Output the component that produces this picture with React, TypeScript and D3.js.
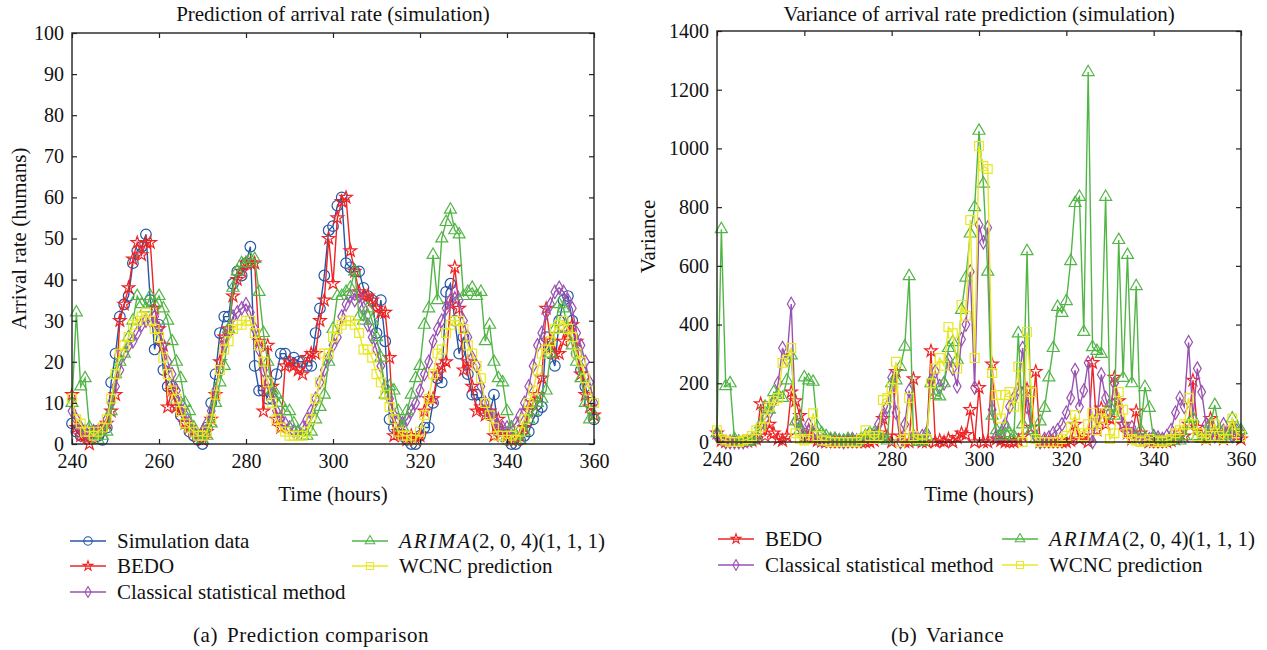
import React, { useEffect, useRef } from "react";
import * as d3 from "d3";

// hourly samples, t = 240 ... 360
const hours = d3.range(240, 361);

// ---- (a) arrival rate (humans) ----
const simData = [
  5, 3, 2, 2, 2, 3, 2, 1, 4, 15, 22, 31, 34, 36, 44, 47, 48, 51, 35, 23,
  29, 18, 14, 14, 10, 7, 5, 3, 2, 1, 0, 4, 10, 17, 27, 31, 31, 39, 42, 41,
  44, 48, 19, 13, 13, 11, 11, 17, 22, 22, 20, 21, 20, 20, 19, 19, 27, 33, 41, 52,
  53, 58, 60, 44, 43, 42, 42, 38, 36, 35, 27, 35, 25, 6, 4, 3, 2, 1, 0, 0,
  2, 4, 4, 10, 16, 15, 37, 39, 30, 22, 26, 17, 12, 12, 10, 8, 7, 12, 3, 2,
  1, 0, 0, 1, 2, 3, 6, 8, 9, 26, 22, 19, 30, 35, 36, 30, 22, 18, 14, 10, 6,
];
const bedoRate = [
  12, 4, 2, 2, 0, 3, 3, 4, 5, 8, 12, 30, 34, 38, 45, 49, 46, 49, 49, 33,
  28, 24, 9, 13, 9, 8, 5, 4, 3, 2, 1, 3, 6, 12, 20, 26, 28, 36, 40, 42,
  44, 44, 44, 25, 8, 24, 14, 6, 4, 19, 20, 19, 18, 17, 21, 22, 22, 30, 35, 50,
  39, 55, 59, 60, 47, 42, 37, 36, 36, 35, 33, 32, 32, 21, 2, 3, 2, 1, 2, 1,
  2, 8, 11, 11, 17, 19, 20, 34, 43, 33, 18, 20, 14, 8, 9, 7, 8, 2, 6, 3,
  2, 1, 1, 2, 4, 8, 10, 12, 16, 33, 25, 22, 22, 25, 27, 29, 25, 17, 12, 9, 7,
];
const classicalRate = [
  8, 6, 4, 3, 3, 3, 3, 4, 6, 10, 14, 18, 22, 24, 25, 27, 29, 30, 30, 31,
  28, 24, 20, 17, 13, 10, 7, 5, 3, 2, 3, 5, 8, 13, 18, 24, 27, 31, 32, 33,
  34, 32, 28, 23, 18, 15, 12, 8, 6, 5, 4, 3, 3, 4, 6, 8, 11, 15, 18, 21,
  24, 26, 31, 34, 36, 35, 36, 33, 29, 26, 23, 19, 14, 11, 7, 6, 5, 6, 8, 10,
  13, 17, 20, 25, 28, 30, 33, 35, 37, 35, 30, 26, 21, 19, 14, 10, 8, 6, 4, 4,
  4, 4, 5, 7, 10, 14, 19, 24, 27, 32, 34, 37, 38, 37, 35, 33, 27, 24, 20, 15, 10,
];
const arimaRate = [
  10, 32, 14, 16, 4, 2, 1, 2, 3, 8, 17, 20, 22, 26, 30, 36, 34, 33, 36, 34,
  36, 33, 30, 25, 20, 16, 10, 8, 4, 2, 1, 2, 5, 10, 15, 19, 28, 38, 42, 44,
  44, 45, 45, 37, 27, 20, 13, 12, 10, 8, 8, 5, 3, 2, 2, 3, 6, 9, 12, 20,
  28, 36, 36, 37, 38, 42, 31, 30, 33, 30, 26, 21, 12, 14, 13, 8, 4, 8, 12, 16,
  19, 29, 33, 46, 35, 50, 54, 57, 52, 51, 36, 37, 38, 36, 37, 25, 29, 20, 16, 15,
  8, 4, 2, 1, 3, 6, 8, 10, 11, 13, 22, 28, 34, 33, 28, 24, 20, 16, 10, 6, 7,
];
const wcncRate = [
  11, 6, 5, 3, 3, 2, 3, 4, 6, 11, 17, 22, 24, 26, 29, 30, 31, 32, 30, 28,
  26, 21, 17, 13, 11, 8, 5, 4, 3, 2, 2, 3, 6, 12, 18, 23, 25, 28, 29, 29,
  30, 30, 27, 24, 20, 15, 10, 6, 4, 3, 2, 2, 2, 2, 3, 6, 11, 15, 22, 22,
  26, 28, 29, 30, 30, 29, 27, 23, 23, 21, 17, 15, 12, 9, 6, 3, 2, 2, 1, 1,
  3, 7, 11, 17, 22, 23, 27, 29, 30, 30, 28, 24, 22, 19, 16, 10, 7, 4, 2, 2,
  1, 2, 1, 3, 6, 10, 13, 18, 22, 23, 25, 28, 29, 30, 28, 26, 22, 20, 16, 13, 10,
];

// ---- (b) variance of prediction ----
const bedoVar = [
  30, 5, 0, 0, 0, 0, 0, 2, 5, 10, 130, 20, 60, 30, 10, 5, 20, 170, 140, 90,
  20, 40, 15, 5, 2, 0, 0, 0, 0, 0, 0, 0, 0, 0, 0, 0, 5, 30, 80, 20,
  0, 240, 20, 0, 0, 215, 10, 0, 0, 310, 0, 5, 0, 10, 0, 15, 30, 25, 110, 0,
  185, 0, 0, 265, 10, 5, 0, 0, 0, 5, 20, 180, 50, 240, 0, 0, 0, 0, 0, 0,
  0, 5, 60, 10, 20, 0, 270, 40, 115, 60, 80, 220, 140, 60, 30, 10, 105, 30, 10, 0,
  0, 0, 0, 0, 5, 10, 30, 20, 60, 210, 50, 20, 10, 80, 30, 20, 10, 30, 40, 20, 10,
];
const classicalVar = [
  20, 10, 0, 0, 0, 0, 0, 5, 10, 20, 60, 80, 100, 140, 200, 320, 280, 470, 70, 50,
  20, 60, 30, 10, 5, 5, 5, 10, 5, 0, 5, 10, 5, 10, 20, 30, 20, 60, 90, 120,
  220, 100, 0, 60, 175, 20, 10, 20, 30, 210, 240, 190, 200, 280, 250, 190, 350, 400, 580, 185,
  740, 680, 730, 110, 20, 30, 60, 120, 150, 180, 320, 120, 40, 20, 0, 10, 15, 30, 40, 60,
  100, 150, 245, 120, 175, 270, 0, 80, 230, 150, 100, 200, 120, 60, 40, 50, 20, 10, 5, 10,
  20, 15, 10, 20, 40, 100, 150, 120, 340, 80, 250, 170, 60, 30, 20, 40, 60, 30, 20, 40, 30,
];
const arimaVar = [
  30, 725, 190, 200, 10, 0, 0, 0, 5, 20, 60, 120, 110, 170, 160, 150, 210, 295, 70, 40,
  220, 210, 205, 50, 30, 20, 10, 10, 5, 5, 10, 5, 0, 10, 20, 30, 30, 20, 10, 5,
  200, 210, 256, 325, 565, 10, 0, 0, 20, 200, 160, 155, 200, 320, 340, 280, 450, 560, 710, 800,
  1060, 880, 580, 90, 40, 20, 50, 30, 20, 370, 60, 650, 40, 10, 70, 116, 220, 320, 460, 440,
  480, 616, 814, 835, 375, 1260, 323, 310, 300, 835, 120, 90, 688, 218, 637, 200, 531, 40, 187, 116,
  10, 5, 0, 0, 5, 10, 5, 20, 60, 80, 20, 10, 20, 60, 126, 40, 20, 10, 80, 50, 40,
];
const wcncVar = [
  40, 10, 5, 0, 0, 0, 5, 10, 20, 40, 50, 80, 120, 140, 150, 270, 280, 320, 30, 10,
  5, 10, 98, 20, 5, 5, 0, 0, 0, 0, 0, 0, 0, 10, 40, 20, 10, 20, 143, 150,
  184, 273, 0, 10, 150, 20, 10, 10, 10, 200, 250, 286, 260, 392, 370, 250, 467, 430, 756, 286,
  1008, 940, 930, 235, 160, 80, 160, 170, 120, 256, 0, 375, 170, 10, 0, 0, 0, 0, 0, 10,
  20, 50, 92, 30, 20, 60, 100, 40, 80, 100, 10, 30, 170, 110, 30, 10, 5, 0, 5, 10,
  0, 5, 0, 5, 10, 30, 40, 60, 150, 60, 20, 30, 10, 20, 60, 20, 10, 40, 80, 30, 20,
];

const xTicks = [240, 260, 280, 300, 320, 340, 360];
const rateTicks = [0, 10, 20, 30, 40, 50, 60, 70, 80, 90, 100];
const varTicks = [0, 200, 400, 600, 800, 1000, 1200, 1400];

const C = {
  blue: "#2456a8",
  red: "#ee2424",
  purple: "#9a52b2",
  green: "#52b646",
  yellow: "#e8e824",
};

const mk = {
  circle: d3.symbol().type(d3.symbolCircle).size(88)(),
  star: d3.symbol().type(d3.symbolStar).size(48)(),
  diamond: d3.symbol().type(d3.symbolDiamond).size(52)(),
  triangle: d3.symbol().type(d3.symbolTriangle).size(62)(),
  square: d3.symbol().type(d3.symbolSquare).size(78)(),
};

const ratePanel = {
  title: "Prediction of arrival rate (simulation)",
  yLabel: "Arrival rate (humans)",
  caption: ["(a)", "Prediction comparison"],
  captionX: [193, 227],
  box: { x0: 72, x1: 594, y0: 33, y1: 444 },
  yDomain: [0, 100],
  yTicks: rateTicks,
  series: [
    { name: "Simulation data", values: simData, color: C.blue, marker: mk.circle },
    { name: "BEDO", values: bedoRate, color: C.red, marker: mk.star },
    { name: "Classical statistical method", values: classicalRate, color: C.purple, marker: mk.diamond },
    { name: "ARIMA", values: arimaRate, color: C.green, marker: mk.triangle },
    { name: "WCNC prediction", values: wcncRate, color: C.yellow, marker: mk.square },
  ],
  // legend slots [x of line start, y]
  legend: [
    [70, 541], [70, 566], [70, 592], [352, 541], [352, 566],
  ],
  yLabelX: 19,
};

const varPanel = {
  title: "Variance of arrival rate prediction (simulation)",
  yLabel: "Variance",
  caption: ["(b)", "Variance"],
  captionX: [891, 926],
  box: { x0: 717, x1: 1241, y0: 31, y1: 442 },
  yDomain: [0, 1400],
  yTicks: varTicks,
  series: [
    { name: "BEDO", values: bedoVar, color: C.red, marker: mk.star },
    { name: "Classical statistical method", values: classicalVar, color: C.purple, marker: mk.diamond },
    { name: "ARIMA", values: arimaVar, color: C.green, marker: mk.triangle },
    { name: "WCNC prediction", values: wcncVar, color: C.yellow, marker: mk.square },
  ],
  legend: [
    [718, 539], [718, 565], [1002, 539], [1002, 565],
  ],
  yLabelX: 648,
};

function drawPanel(svg, p) {
  const { x0, x1, y0, y1 } = p.box;
  const x = d3.scaleLinear().domain([240, 360]).range([x0, x1]);
  const y = d3.scaleLinear().domain(p.yDomain).range([y1, y0]);
  const g = svg.append("g");

  // series: line first, then hollow markers
  p.series.forEach(s => {
    const pts = hours.map((h, i) => [h, s.values[i]]);
    g.append("path")
      .datum(pts)
      .attr("fill", "none")
      .attr("stroke", s.color)
      .attr("stroke-width", 1.4)
      .attr("d", d3.line().x(d => x(d[0])).y(d => y(d[1])));
    g.append("g")
      .selectAll("path")
      .data(pts)
      .join("path")
      .attr("d", s.marker)
      .attr("transform", d => `translate(${x(d[0])},${y(d[1])})`)
      .attr("fill", "none")
      .attr("stroke", s.color)
      .attr("stroke-width", 1.2);
  });

  // frame + inward ticks on all sides
  const tick = 5;
  g.append("g")
    .attr("transform", `translate(0,${y1})`)
    .call(d3.axisBottom(x).tickValues(xTicks).tickSizeInner(-tick).tickSizeOuter(0).tickPadding(10).tickFormat(d3.format("d")));
  g.append("g")
    .attr("transform", `translate(0,${y0})`)
    .call(d3.axisTop(x).tickValues(xTicks).tickSizeInner(-tick).tickSizeOuter(0).tickFormat(() => ""));
  g.append("g")
    .attr("transform", `translate(${x0},0)`)
    .call(d3.axisLeft(y).tickValues(p.yTicks).tickSizeInner(-tick).tickSizeOuter(0).tickPadding(8).tickFormat(d3.format("d")));
  g.append("g")
    .attr("transform", `translate(${x1},0)`)
    .call(d3.axisRight(y).tickValues(p.yTicks).tickSizeInner(-tick).tickSizeOuter(0).tickFormat(() => ""));
  g.selectAll(".domain").remove();
  g.selectAll(".tick line").attr("stroke", "#222").attr("stroke-width", 1.2);
  g.selectAll(".tick text")
    .attr("fill", "#111")
    .attr("font-family", "'Liberation Serif', serif")
    .attr("font-size", 20);
  g.append("rect")
    .attr("x", x0).attr("y", y0)
    .attr("width", x1 - x0).attr("height", y1 - y0)
    .attr("fill", "none").attr("stroke", "#222").attr("stroke-width", 1.4);

  const cx = (x0 + x1) / 2;
  g.append("text").attr("x", cx).attr("y", 21).attr("text-anchor", "middle").text(p.title);
  g.append("text").attr("x", cx).attr("y", 501).attr("text-anchor", "middle").text("Time (hours)");
  g.append("text")
    .attr("transform", `translate(${p.yLabelX},${(y0 + y1) / 2}) rotate(-90)`)
    .attr("text-anchor", "middle")
    .attr("dy", "0.35em")
    .text(p.yLabel);
  const cap = g.append("text").attr("y", 642).attr("letter-spacing", 0.6);
  cap.append("tspan").attr("x", p.captionX[0]).text(p.caption[0]);
  cap.append("tspan").attr("x", p.captionX[1]).text(p.caption[1]);

  // legend
  p.series.forEach((s, i) => {
    const [lx, ly] = p.legend[i];
    const lg = g.append("g").attr("transform", `translate(${lx},${ly})`);
    lg.append("line").attr("x1", 0).attr("x2", 36).attr("stroke", s.color).attr("stroke-width", 1.4);
    lg.append("path").attr("d", s.marker).attr("transform", "translate(18,0) scale(0.8)")
      .attr("fill", "none").attr("stroke", s.color).attr("stroke-width", 1.3);
    const t = lg.append("text").attr("x", 47).attr("dy", "0.35em");
    if (s.name === "ARIMA") {
      t.append("tspan").attr("font-style", "italic").attr("letter-spacing", 2).text("ARIMA");
      t.append("tspan").text("(2, 0, 4)(1, 1, 1)");
    } else {
      t.text(s.name);
    }
  });
}

const App = () => {
  const ref = useRef(null);

  useEffect(() => {
    const svg = d3.select(ref.current);
    svg.selectAll("*").remove();
    drawPanel(svg, ratePanel);
    drawPanel(svg, varPanel);
  }, []);

  return (
    <div style={{ position: "absolute", left: 0, top: 0 }}>
      <svg
        ref={ref}
        width={1267}
        height={650}
        style={{ display: "block", background: "#fff" }}
        fontFamily="'Liberation Serif', serif"
        fontSize={21}
        fill="#111"
      />
    </div>
  );
};

export default App;
